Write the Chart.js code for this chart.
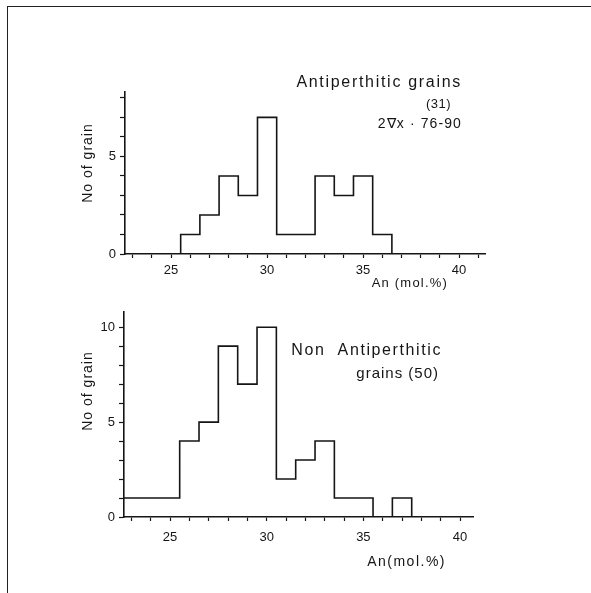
<!DOCTYPE html>
<html>
<head>
<meta charset="utf-8">
<script src="https://cdn.jsdelivr.net/npm/chart.js@4.4.0/dist/chart.umd.min.js"></script>
<style>
  html, body { margin: 0; padding: 0; background: #fff; }
  body { width: 591px; height: 593px; position: relative; overflow: hidden; }
  #frame { position: absolute; left: 7px; top: 6px; width: 590px; height: 600px;
           border-top: 1.5px solid #222; border-left: 1.5px solid #222; }
  .box { position: absolute; left: 0; width: 591px; }
</style>
</head>
<body>
<div id="frame"></div>
<div class="box" style="top:0;height:300px"><canvas id="antiChart"></canvas></div>
<div class="box" style="top:300px;height:293px"><canvas id="nonAntiChart"></canvas></div>
<script>
// lower edge of each 1 % An bin and number of grains in it
var antiBins = [25.5, 26.5, 27.5, 28.5, 29.5, 30.5, 31.5, 32.5, 33.5, 34.5, 35.5];
var antiCounts = [1, 2, 4, 3, 7, 1, 1, 4, 3, 4, 1];

var nonAntiBins = [22.5, 23.5, 24.5, 25.5, 26.5, 27.5, 28.5, 29.5, 30.5, 31.5, 32.5, 33.5, 34.5, 35.5, 36.5];
var nonAntiCounts = [1, 1, 1, 4, 5, 9, 7, 10, 2, 3, 4, 1, 1, 0, 1];

var xTickLabels = [25, 30, 35, 40];
var antiYLabels = [0, 5];
var nonAntiYLabels = [0, 5, 10];

var FONT = '"Liberation Sans", Arial, sans-serif';
var INK = '#151515';

// outline of the histogram as a stepped line
function stepPoints(bins, counts) {
  var pts = [{ x: bins[0], y: 0 }];
  bins.forEach(function (b, i) { pts.push({ x: b, y: counts[i] }); });
  pts.push({ x: bins[bins.length - 1] + 1, y: 0 });
  return pts;
}

function textPlugin(items) {
  return {
    id: 'figText',
    afterDraw: function (chart) {
      var ctx = chart.ctx;
      items.forEach(function (t) {
        ctx.save();
        ctx.font = t.size + 'px ' + FONT;
        ctx.fillStyle = INK;
        ctx.letterSpacing = (t.spacing || 0) + 'px';
        ctx.translate(t.x, t.y);
        if (t.rotate) ctx.rotate(t.rotate);
        ctx.textAlign = t.align || 'right';
        ctx.textBaseline = t.baseline || 'alphabetic';
        ctx.fillText(t.text, 0, 0);
        ctx.restore();
      });
    }
  };
}

function makeChart(id, bins, counts, o) {
  return new Chart(document.getElementById(id), {
    type: 'line',
    data: {
      datasets: [{
        data: stepPoints(bins, counts),
        stepped: 'before',
        borderColor: INK,
        borderWidth: 1.6,
        pointRadius: 0,
        fill: false
      }]
    },
    options: {
      responsive: true,
      maintainAspectRatio: false,
      animation: false,
      layout: { padding: o.padding },
      plugins: { legend: { display: false }, tooltip: { enabled: false } },
      scales: {
        x: {
          type: 'linear',
          min: o.xMin,
          max: o.xMax,
          afterFit: function (s) { s.height = o.xHeight; },
          grid: { drawOnChartArea: false, drawTicks: true, tickLength: 4, tickColor: INK, tickWidth: 1.2 },
          border: { display: true, color: INK, width: 1.6 },
          ticks: {
            stepSize: 1,
            includeBounds: false,
            autoSkip: false,
            maxRotation: 0,
            padding: o.xPad,
            color: INK,
            font: { family: FONT, size: 13 },
            callback: function (v) { return xTickLabels.indexOf(v) >= 0 ? String(v) : ''; }
          }
        },
        y: {
          min: 0,
          max: o.yMax,
          afterFit: function (s) { s.width = 50; },
          grid: { drawOnChartArea: false, drawTicks: true, tickLength: 5, tickColor: INK, tickWidth: 1.2 },
          border: { display: true, color: INK, width: 1.6 },
          ticks: {
            stepSize: 1,
            includeBounds: false,
            autoSkip: false,
            padding: 4,
            color: INK,
            font: { family: FONT, size: 13 },
            callback: function (v) { return o.yLabels.indexOf(v) >= 0 ? String(v) : ''; }
          }
        }
      }
    },
    plugins: [textPlugin(o.texts)]
  });
}

makeChart('antiChart', antiBins, antiCounts, {
  xMin: 22.6, xMax: 41.35, yMax: 8.3,
  yLabels: antiYLabels,
  xHeight: 30, xPad: 5,
  padding: { left: 75, right: 106, top: 92, bottom: 16 },
  texts: [
    { text: 'Antiperthitic grains', x: 462, y: 87, size: 16, spacing: 1.7 },
    { text: '(31)', x: 451, y: 108, size: 13, spacing: 0.5 },
    { text: '2\u2207x \u00b7 76-90', x: 462, y: 128, size: 14, spacing: 1.1 },
    { text: 'An (mol.%)', x: 448, y: 287, size: 13, spacing: 1.2 },
    { text: 'No of grain', x: 88.5, y: 163, size: 14, spacing: 1, align: 'center', baseline: 'middle', rotate: -Math.PI / 2 }
  ]
});

makeChart('nonAntiChart', nonAntiBins, nonAntiCounts, {
  xMin: 22.62, xMax: 40.67, yMax: 10.8,
  yLabels: nonAntiYLabels,
  xHeight: 30, xPad: 9,
  padding: { left: 74, right: 118, top: 12, bottom: 46 },
  texts: [
    { text: 'Non  Antiperthitic', x: 442, y: 55, size: 16, spacing: 1.6 },
    { text: 'grains (50)', x: 439, y: 78, size: 15, spacing: 1 },
    { text: 'An(mol.%)', x: 446, y: 266, size: 14, spacing: 1.5 },
    { text: 'No of grain', x: 88.5, y: 91, size: 14, spacing: 1, align: 'center', baseline: 'middle', rotate: -Math.PI / 2 }
  ]
});
</script>
</body>
</html>
